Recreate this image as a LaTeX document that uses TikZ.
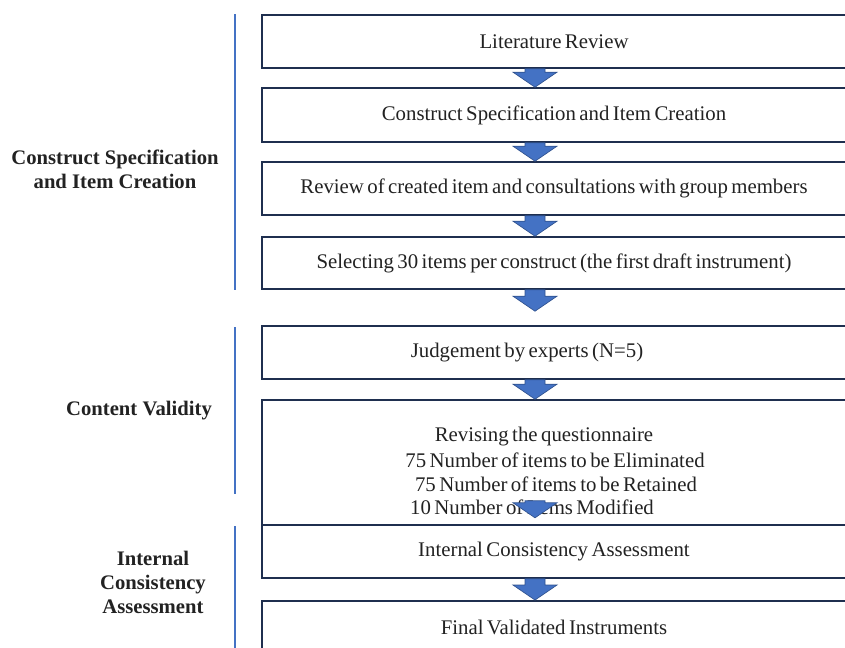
\documentclass[tikz,border=0pt]{standalone}
\usepackage{fontspec}
\setmainfont{Liberation Serif}
\usetikzlibrary{calc}

\definecolor{boxline}{HTML}{1F2F4F}
\definecolor{arrblue}{HTML}{4472C4}
\definecolor{arredge}{HTML}{2F528F}
\definecolor{txtgray}{HTML}{222222}

\newcommand{\stepfont}{\fontsize{15.6}{19}\selectfont\spaceskip=2.6pt plus 0.5pt minus 0.3pt}

\tikzset{
  stepbox/.style={draw=boxline, line width=1.2pt, fill=white, minimum width=438pt,
    minimum height=40pt, inner sep=0pt, text=txtgray, font=\stepfont},
  steptext/.style={text=txtgray, inner sep=0pt, font=\stepfont},
  phase/.style={align=center, text=txtgray, inner sep=0pt, font=\fontsize{15.5}{18}\selectfont\bfseries},
  sideline/.style={draw=arrblue, line width=1.1pt},
  blockarr/.style={fill=arrblue, draw=arredge, line width=0.5pt, line join=miter}
}

% block arrow from #1 (top) to #2 (tip)
\newcommand{\blockdown}[2]{%
  \filldraw[blockarr] ($(#1)+(-29,0)$) -- ($(#1)+(-9,0)$) -- ($(#2)+(-9,-15)$)
    -- ($(#2)+(3,-15)$) -- ($(#2)+(-19,0)$) -- ($(#2)+(-41,-15)$) -- ($(#2)+(-29,-15)$) -- cycle;}

\begin{document}
\begin{tikzpicture}[x=0.75pt,y=-0.75pt]
    \useasboundingbox (0,0) rectangle (845,648);
    \clip (0,0) rectangle (845,648);

    % the steps
    \node[stepbox, minimum height=39.75pt] (b1) at (554,41.5) {Literature Review};
    \node[stepbox, minimum height=40.5pt] (b2) at (554,115) {Construct Specification and Item Creation};
    \node[stepbox, minimum height=39.75pt] (b3) at (554,188.5) {Review of created item and consultations with group members};
    \node[stepbox, minimum height=39pt] (b4) at (554,263) {Selecting 30 items per construct (the first draft instrument)};
    \node[stepbox, minimum height=39.75pt] (b5) at (554,352.5) {};
    \node[steptext] (j5) at (527,353) {Judgement by experts (N=5)};
    \node[stepbox, minimum height=93.75pt] (b6) at (554,462.5) {};
    \node[steptext] (r1) at (544,437) {Revising the questionnaire};
    \node[steptext] (r2) at (555,460.5) {75 Number of items to be Eliminated};
    \node[steptext] (r3) at (556,484) {75 Number of items to be Retained};
    \node[steptext] (r4) at (532,507.5) {10 Number of Items Modified};
    \node[stepbox, minimum height=39.75pt] (b7) at (554,551.5) {Internal Consistency Assessment};
    \node[stepbox, minimum height=40pt] (b8) at (554,627.5) {Final Validated Instruments};

    % arrows
    \foreach \u/\v in {b1/b2,b2/b3,b3/b4,b5/b6,b7/b8}
        \blockdown{\u.south}{\v.north};
    \coordinate (t45) at ($(b5.north)+(0,-14)$);
    \blockdown{b4.south}{t45}
    \coordinate (s6) at ($(b6.south)+(0,-25)$);
    \coordinate (t6) at ($(b6.south)+(0,-8)$);
    \blockdown{s6}{t6}

    % phases
    \coordinate (lx) at (235,0);
    \draw[sideline] (lx |- b1.north) -- (lx |- b4.south);
    \draw[sideline] ($(lx |- b5.north)+(0,2)$) -- ($(lx |- b6.south)+(0,-32)$);
    \draw[sideline] ($(lx |- b7.north)+(0,2)$) -- (235,660);
    \node[phase] (p1) at (115,169) {Construct Specification\\and Item Creation};
    \node[phase] (p2) at (139,411) {Content Validity};
    \node[phase] (p3) at (153,582) {Internal\\Consistency\\Assessment};
\end{tikzpicture}
\end{document}
